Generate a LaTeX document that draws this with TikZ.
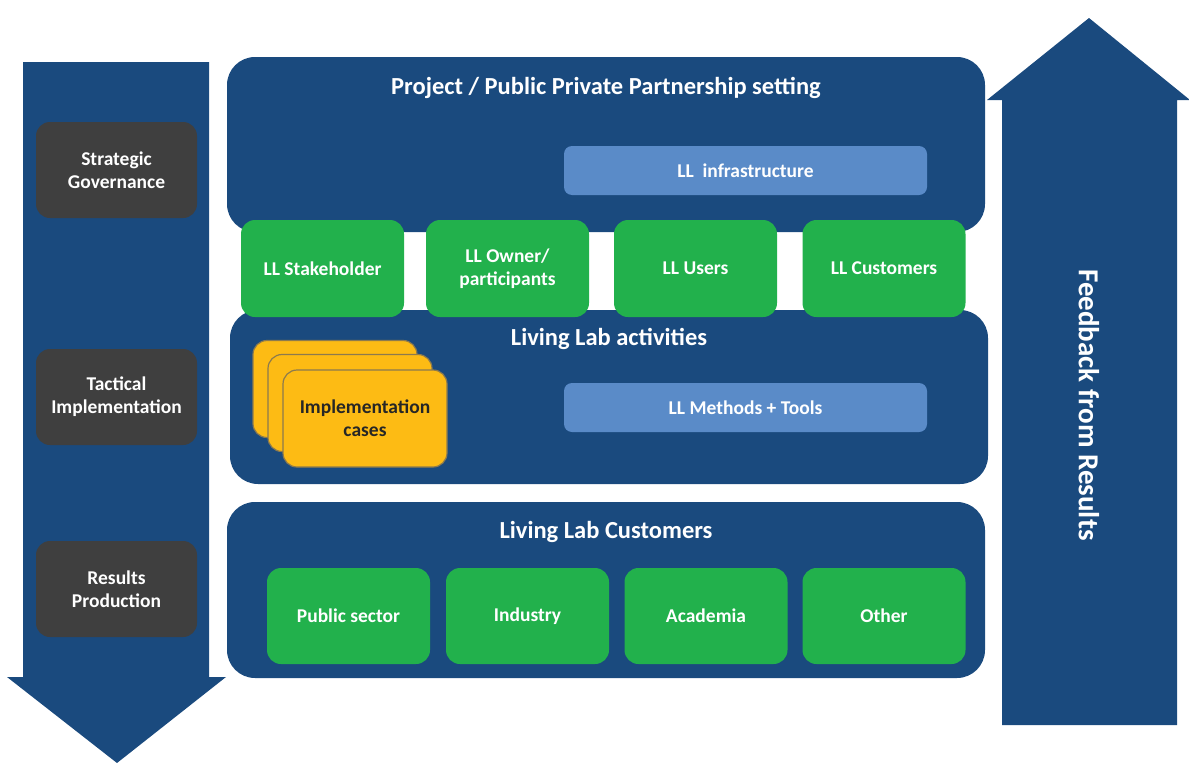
\documentclass[tikz,border=0pt]{standalone}
\usepackage{fontspec}
\setmainfont{Carlito}
\definecolor{navy}{HTML}{1A4A7E}
\definecolor{llgreen}{HTML}{22B14C}
\definecolor{lightblue}{HTML}{5A8BC8}
\definecolor{darkgray}{HTML}{3F3F3F}
\definecolor{amber}{HTML}{FDBB14}
\definecolor{amberedge}{HTML}{8C7A4E}
\begin{document}
\begin{tikzpicture}[x=1pt,y=-1pt,
  boxfont/.style={font=\bfseries\fontsize{19.5}{23}\selectfont},
  panel/.style={fill=navy, rounded corners=28pt, inner sep=0pt},
  paneltitle/.style={text=white, font=\bfseries\fontsize{24.5}{28}\selectfont},
  greenbox/.style={fill=llgreen, rounded corners=14pt, inner sep=0pt, text=white,
    boxfont, align=center, minimum width=163pt, minimum height=97pt},
  barbox/.style={fill=lightblue, rounded corners=8pt, inner sep=0pt, text=white,
    boxfont, minimum width=363pt, minimum height=49pt},
  levelbox/.style={fill=darkgray, rounded corners=14pt, inner sep=0pt, text=white,
    boxfont, align=center, minimum width=161pt, minimum height=96pt},
  casebox/.style={fill=amber, draw=amberedge, line width=1.2pt, rounded corners=14pt,
    inner sep=0pt, text=black!85, boxfont, align=center,
    minimum width=164pt, minimum height=97pt},
  bigarrow/.style={fill=navy}
]
\useasboundingbox (0,0) rectangle (1189,763);

% side arrows: governance flow downwards, feedback upwards
\fill[bigarrow] (23,62) -- (209,62) -- (209,677) -- (226,677) -- (117,763)
  -- (7,677) -- (23,677) -- cycle;
\fill[bigarrow] (1002,725) -- (1177,725) -- (1177,100) -- (1190,100) -- (1089,18)
  -- (987,100) -- (1002,100) -- cycle;
\node[text=white, rotate=-90, font=\bfseries\fontsize{29}{33}\selectfont]
  (feedback) at (1089,405) {Feedback from Results};

% management levels
\node[levelbox] (strategic) at (116.5,170) {Strategic\\Governance};
\node[levelbox] (tactical) at (116.5,397) {Tactical\\Implementation};
\node[levelbox] (results) at (116.5,589) {Results\\Production};

% main panels
\node[panel, minimum width=758pt, minimum height=175pt] (ppp) at (606,144.5) {};
\node[panel, minimum width=758pt, minimum height=174pt] (activities) at (609,397) {};
\node[panel, minimum width=758pt, minimum height=176pt] (customers) at (606,590) {};

\node[paneltitle] (ppptitle) at (606,88) {Project / Public Private Partnership setting};
\node[paneltitle] (acttitle) at (609,339) {Living Lab activities};
\node[paneltitle] (custtitle) at (606,532) {Living Lab Customers};

\node[barbox] (infra) at (745.5,170.5) {LL\ \ infrastructure};
\node[barbox] (methods) at (745.5,407.5) {LL Methods + Tools};

% actors between the setting and the activities
\node[greenbox] (stakeholder) at (322.5,268.5) {LL Stakeholder};
\node[greenbox] (owner) at (507.5,268.5) {LL Owner/\\participants};
\node[greenbox] (users) at (695.5,268.5) {LL Users};
\node[greenbox] (llcustomers) at (884,268.5) {LL Customers};

% stacked implementation cases
\node[casebox] (case3) at (335,389) {};
\node[casebox] (case2) at (350,403) {};
\node[casebox] (case1) at (365,418.5) {Implementation\\cases};

% customer groups
\node[greenbox, minimum height=96pt] (public) at (348.5,616) {Public sector};
\node[greenbox, minimum height=96pt] (industry) at (527.5,616) {Industry};
\node[greenbox, minimum height=96pt] (academia) at (706,616) {Academia};
\node[greenbox, minimum height=96pt] (other) at (884,616) {Other};
\end{tikzpicture}
\end{document}
